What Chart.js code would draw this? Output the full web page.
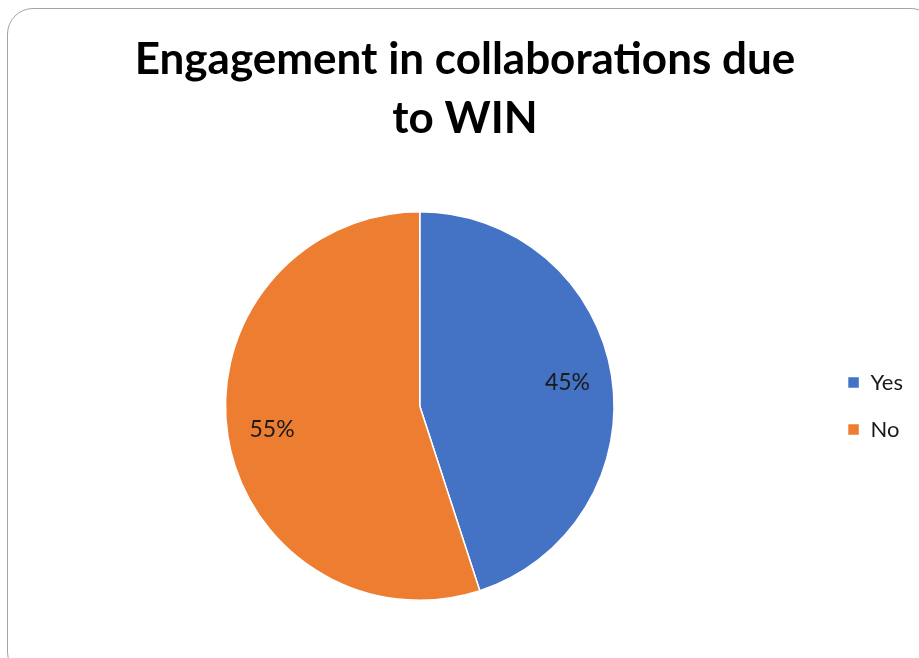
<!DOCTYPE html>
<html>
<head>
<meta charset="utf-8">
<script src="https://cdn.jsdelivr.net/npm/chart.js@4/dist/chart.umd.min.js"></script>
<style>
  html, body { margin: 0; padding: 0; background: #fff; overflow: hidden; }
  #wrap { position: relative; width: 919px; height: 658px; overflow: hidden; }
  #frame {
    position: absolute; left: 7px; top: 8px; width: 930px; height: 670px;
    border: 1.4px solid #a3a3a3; border-radius: 26px; box-sizing: border-box;
  }
  #chart { position: absolute; left: 0; top: 0; }
</style>
</head>
<body>
<div id="wrap">
  <div id="frame"></div>
  <canvas id="chart" width="919" height="658"></canvas>
</div>
<script>
const titleLines = ['Engagement in collaborations due', 'to WIN'];
const categories = ['Yes', 'No'];
const shares = [45, 55];
const sliceColors = ['#4472C4', '#ED7D31'];

const FONT = "Lato, 'Open Sans', sans-serif";

// Writes each slice's percentage inside the slice, along its middle angle
const sliceLabels = {
  id: 'sliceLabels',
  afterDatasetsDraw(chart) {
    const ctx = chart.ctx;
    const meta = chart.getDatasetMeta(0);
    const values = chart.data.datasets[0].data;
    ctx.save();
    ctx.font = '23px ' + FONT;
    ctx.fillStyle = '#1a1a1a';
    ctx.textAlign = 'center';
    ctx.textBaseline = 'middle';
    meta.data.forEach((arc, i) => {
      const p = arc.getProps(['x', 'y', 'startAngle', 'endAngle', 'outerRadius'], true);
      const mid = (p.startAngle + p.endAngle) / 2;
      const r = p.outerRadius * 0.77;
      ctx.fillText(values[i] + '%', p.x + Math.cos(mid) * r, p.y + Math.sin(mid) * r);
    });
    ctx.restore();
  }
};

new Chart(document.getElementById('chart'), {
  type: 'pie',
  data: {
    labels: categories,
    datasets: [{
      data: shares,
      backgroundColor: sliceColors,
      borderColor: '#ffffff',
      borderWidth: 1.5,
      hoverOffset: 0
    }]
  },
  options: {
    responsive: false,
    animation: false,
    layout: { padding: { left: 17, right: 6, top: 0, bottom: 57 } },
    plugins: {
      title: {
        display: true,
        text: titleLines,
        color: '#000000',
        font: { family: FONT, size: 44, weight: 'bold', lineHeight: 1.341 },
        padding: { top: 30.5, bottom: 62.5 }
      },
      legend: {
        position: 'right',
        fullSize: false,
        labels: {
          boxWidth: 12,
          boxHeight: 12,
          padding: 25,
          color: '#1a1a1a',
          font: { family: FONT, size: 22 }
        }
      },
      tooltip: { enabled: false }
    }
  },
  plugins: [sliceLabels]
});
</script>
</body>
</html>
